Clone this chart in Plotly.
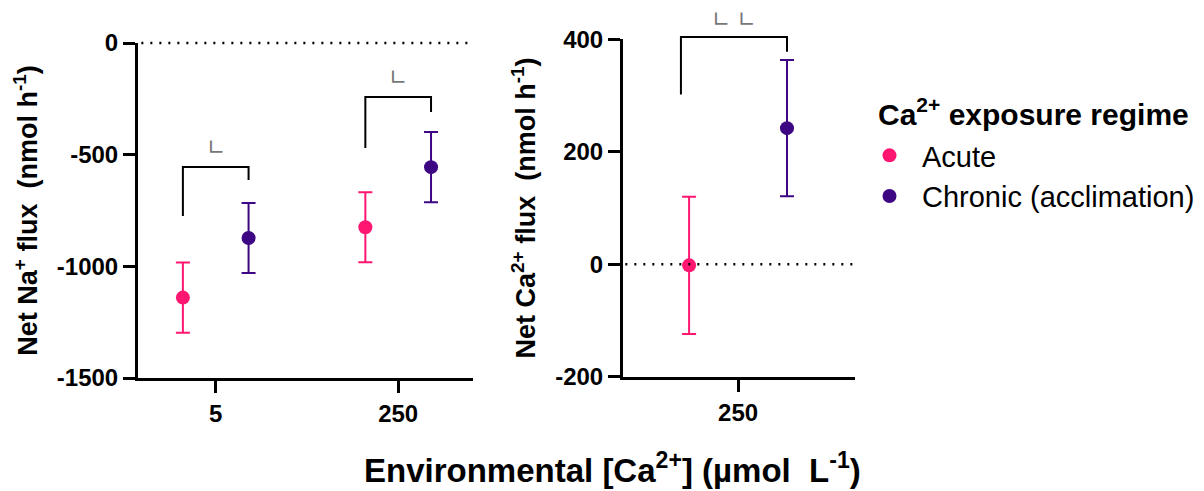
import plotly.graph_objects as go

W, H = 1204, 491

# ---- data ----
na_categories = ["5", "250"]
na_acute = [-1140, -825]
na_acute_err = [157, 157]
na_chronic = [-873, -556]
na_chronic_err = [157, 157]

ca_categories = ["250"]
ca_acute = [-2]
ca_acute_err = [122]
ca_chronic = [242]
ca_chronic_err = [121]

series_names = ["Acute", "Chronic (acclimation)"]
legend_title = "Ca<sup>2+</sup> exposure regime"
ACUTE = "#FF1670"
CHRONIC = "#3D0683"
FONT = "Liberation Sans, Arial, sans-serif"

offset = 0.18

# axes geometry
dom1x = [138 / W, 473 / W]
dom1y = [1 - 378 / H, 1 - 43 / H]
dom2x = [623 / W, 855 / W]
dom2y = [1 - 376.7 / H, 1 - 39.3 / H]
rng1x = [-0.426, 1.41]
rng2x = [-0.423, 0.43]
rng1y = [-1500, 0]
rng2y = [-200, 400]


def ypaper(v, rng, dom):
    return dom[0] + (v - rng[0]) / (rng[1] - rng[0]) * (dom[1] - dom[0])


fig = go.Figure()

na_x = list(range(len(na_categories)))
ca_x = list(range(len(ca_categories)))

fig.add_trace(go.Scatter(
    x=[i - offset for i in na_x], y=na_acute, mode="markers", name=series_names[0],
    marker=dict(color=ACUTE, size=14),
    error_y=dict(type="data", array=na_acute_err, color=ACUTE, thickness=2, width=7),
    xaxis="x", yaxis="y", legendgroup="a", cliponaxis=False))
fig.add_trace(go.Scatter(
    x=[i + offset for i in na_x], y=na_chronic, mode="markers", name=series_names[1],
    marker=dict(color=CHRONIC, size=14),
    error_y=dict(type="data", array=na_chronic_err, color=CHRONIC, thickness=2, width=7),
    xaxis="x", yaxis="y", legendgroup="c", cliponaxis=False))
fig.add_trace(go.Scatter(
    x=[i - offset for i in ca_x], y=ca_acute, mode="markers", name=series_names[0],
    marker=dict(color=ACUTE, size=14), showlegend=False,
    error_y=dict(type="data", array=ca_acute_err, color=ACUTE, thickness=2, width=7),
    xaxis="x2", yaxis="y2", legendgroup="a", cliponaxis=False))
fig.add_trace(go.Scatter(
    x=[i + offset for i in ca_x], y=ca_chronic, mode="markers", name=series_names[1],
    marker=dict(color=CHRONIC, size=14), showlegend=False,
    error_y=dict(type="data", array=ca_chronic_err, color=CHRONIC, thickness=2, width=7),
    xaxis="x2", yaxis="y2", legendgroup="c", cliponaxis=False))

shapes = []
# dotted zero lines
shapes.append(dict(type="line", xref="x domain", yref="y domain", x0=0.01, x1=1, y0=1, y1=1,
                   line=dict(color="black", width=2.5, dash="2px,7px")))
shapes.append(dict(type="line", xref="x2 domain", yref="y2", x0=0.01, x1=1, y0=0, y1=0,
                   line=dict(color="black", width=2.5, dash="2px,7px")))

# significance brackets: (axes, x_left, x_right, y_top, y_left_end, y_right_end, label, label_y)
brackets = [
    ("1", -0.18, 0.18, -555, -775, -613, "∟", -470),
    ("1", 0.82, 1.18, -242, -470, -309, "∟", -155),
    ("2", -0.21, 0.18, 404, 302, 378, "∟ ∟", 436),
]
annotations = []
for ax, xl, xr, yt, yl, yr, lab, ly in brackets:
    if ax == "1":
        rng, dom, xref = rng1y, dom1y, "x"
    else:
        rng, dom, xref = rng2y, dom2y, "x2"
    p = lambda v: ypaper(v, rng, dom)
    path = f"M {xl},{p(yl)} L {xl},{p(yt)} L {xr},{p(yt)} L {xr},{p(yr)}"
    shapes.append(dict(type="path", xref=xref, yref="paper", path=path,
                       line=dict(color="black", width=2)))
    annotations.append(dict(x=(xl + xr) / 2, y=p(ly), xref=xref, yref="paper", text=lab,
                            xanchor="center", yanchor="middle",
                            showarrow=False, font=dict(family="DejaVu Sans", size=22, color="#777777")))

annotations.append(dict(x=612 / W, y=1 - 468 / H, xref="paper", yref="paper",
                        text="<b>Environmental [Ca<sup>2+</sup>] (µmol  L<sup>-1</sup>)</b>",
                        showarrow=False, font=dict(family=FONT, size=33, color="black"),
                        xanchor="center", yanchor="middle"))
annotations.append(dict(x=876 / W, y=1 - 112 / H, xref="paper", yref="paper",
                        text=f"<b>{legend_title}</b>",
                        showarrow=False, font=dict(family=FONT, size=30, color="black"),
                        xanchor="left", yanchor="middle"))

axis_common = dict(showline=True, linecolor="black", linewidth=3, ticks="outside",
                   ticklen=12, tickwidth=3, tickcolor="black", showgrid=False, zeroline=False,
                   automargin=False,
                   tickfont=dict(family=FONT, size=24, color="black"))

fig.update_layout(
    width=W, height=H, margin=dict(l=0, r=0, t=0, b=0),
    paper_bgcolor="white", plot_bgcolor="white",
    font=dict(family=FONT, color="black"),
    shapes=shapes, annotations=annotations,
    xaxis=dict(domain=dom1x, range=rng1x, tickvals=na_x,
               ticktext=[f"<b>{c}</b>" for c in na_categories], anchor="y", **axis_common),
    yaxis=dict(domain=dom1y, range=rng1y, tickvals=[0, -500, -1000, -1500],
               ticktext=["<b>0</b>", "<b>-500</b>", "<b>-1000</b>", "<b>-1500</b>"], anchor="x",
               title=dict(text="<b>Net Na<sup>+</sup> flux  (nmol h<sup>-1</sup>)</b>",
                          font=dict(family=FONT, size=27, color="black"), standoff=12),
               **axis_common),
    xaxis2=dict(domain=dom2x, range=rng2x, tickvals=ca_x,
                ticktext=[f"<b>{c}</b>" for c in ca_categories], anchor="y2", **axis_common),
    yaxis2=dict(domain=dom2y, range=rng2y, tickvals=[-200, 0, 200, 400],
                ticktext=["<b>-200</b>", "<b>0</b>", "<b>200</b>", "<b>400</b>"], anchor="x2",
                title=dict(text="<b>Net Ca<sup>2+</sup> flux  (nmol h<sup>-1</sup>)</b>",
                           font=dict(family=FONT, size=27, color="black"), standoff=12),
                **axis_common),
    legend=dict(x=857 / W, y=1 - 130 / H, xanchor="left", yanchor="top",
                font=dict(family=FONT, size=29, color="black"),
                bgcolor="rgba(0,0,0,0)", tracegroupgap=0, itemwidth=55),
    showlegend=True,
)

fig.write_html("out.html", config={"displayModeBar": False},
               post_script="document.body.style.margin='0';")
